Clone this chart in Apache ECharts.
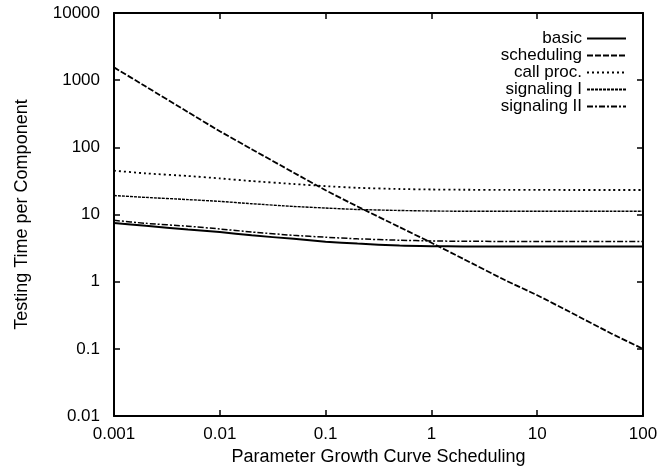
<!DOCTYPE html>
<html>
<head>
<meta charset="utf-8">
<script src="https://cdn.jsdelivr.net/npm/echarts@6/dist/echarts.min.js"></script>
<style>
html, body { margin: 0; padding: 0; background: #fff; }
#chart { width: 670px; height: 471px; }
</style>
</head>
<body>
<div id="chart"></div>
<script>
// x positions (parameter values) shared by all curves
const paramValues = [0.001, 0.002, 0.005, 0.01, 0.02, 0.05, 0.1, 0.2, 0.5, 1, 2, 5, 10, 20, 50, 100]

// testing time per component
const basicValues      = [7.5, 6.8, 6.0, 5.5, 4.9, 4.35, 3.95, 3.7, 3.45, 3.38, 3.35, 3.35, 3.35, 3.35, 3.35, 3.35]
const schedulingValues = [1550, 804, 335, 174, 94, 42, 23, 13.2, 6.5, 3.8, 2.19, 1.05, 0.63, 0.36, 0.17, 0.1]
const callProcValues   = [45, 41, 37.5, 34.5, 31.5, 28.5, 26.5, 25, 24, 23.6, 23.4, 23.3, 23.3, 23.2, 23.2, 23.2]
const signalingIValues = [19.2, 18, 16.7, 15.7, 14.5, 13.2, 12.5, 11.9, 11.5, 11.3, 11.2, 11.2, 11.2, 11.2, 11.2, 11.2]
const signalingIIValues = [8.2, 7.4, 6.7, 6.1, 5.5, 4.9, 4.6, 4.35, 4.15, 4.05, 4.0, 3.98, 3.97, 3.96, 3.96, 3.96]

const seriesNames = ['basic', 'scheduling', 'call proc.', 'signaling I', 'signaling II']

const FONT = 'Liberation Sans'

function pairs(ys) {
    return paramValues.map((x, i) => [x, ys[i]])
}

function fmt(v) {
    return String(+v.toPrecision(6))
}

function lineSeries(name, ys, width, type) {
    return {
        name: name,
        type: 'line',
        data: pairs(ys),
        symbol: 'none',
        smooth: 0.2,
        lineStyle: { color: '#000', width: width, type: type },
        itemStyle: { color: '#000' },
        emphasis: { disabled: true }
    }
}

let chart = echarts.init(document.getElementById('chart'), null, { renderer: 'canvas' })

let frameAxis = {
    axisLine: { show: true, lineStyle: { color: '#000', width: 2 } },
    axisTick: { show: true, inside: true, length: 6, lineStyle: { color: '#000', width: 1.5 } },
    splitLine: { show: false }
}

chart.setOption({
    animation: false,
    backgroundColor: '#fff',
    textStyle: { fontFamily: FONT, color: '#000' },
    grid: { left: 114, right: 27, top: 13, bottom: 48 },
    legend: {
        data: seriesNames,
        orient: 'vertical',
        align: 'right',
        right: 43,
        top: 30,
        padding: 0,
        itemGap: 0,
        itemWidth: 39,
        itemHeight: 10,
        itemStyle: { opacity: 0 },
        textStyle: { fontFamily: FONT, fontSize: 17, color: '#000', lineHeight: 15 }
    },
    xAxis: [
        Object.assign({}, frameAxis, {
            type: 'log',
            logBase: 10,
            min: 0.001,
            max: 100,
            position: 'bottom',
            name: 'Parameter Growth Curve Scheduling',
            nameLocation: 'middle',
            nameGap: 27,
            nameTextStyle: { fontFamily: FONT, fontSize: 18, color: '#000' },
            axisLabel: { fontFamily: FONT, fontSize: 17, color: '#000', margin: 10, formatter: fmt }
        }),
        Object.assign({}, frameAxis, {
            type: 'log',
            logBase: 10,
            min: 0.001,
            max: 100,
            position: 'top',
            axisLabel: { show: false }
        })
    ],
    yAxis: [
        Object.assign({}, frameAxis, {
            type: 'log',
            logBase: 10,
            min: 0.01,
            max: 10000,
            position: 'left',
            name: 'Testing Time per Component',
            nameLocation: 'middle',
            nameGap: 83,
            nameRotate: 90,
            nameTextStyle: { fontFamily: FONT, fontSize: 18, color: '#000' },
            axisLabel: { fontFamily: FONT, fontSize: 17, color: '#000', margin: 14, formatter: fmt }
        }),
        Object.assign({}, frameAxis, {
            type: 'log',
            logBase: 10,
            min: 0.01,
            max: 10000,
            position: 'right',
            axisLabel: { show: false }
        })
    ],
    series: [
        lineSeries('basic', basicValues, 2, 'solid'),
        lineSeries('scheduling', schedulingValues, 1.8, [6, 2]),
        lineSeries('call proc.', callProcValues, 1.8, [2, 3]),
        lineSeries('signaling I', signalingIValues, 1.4, [3, 1]),
        lineSeries('signaling II', signalingIIValues, 1.5, [6, 2, 2, 2])
    ]
})
</script>
</body>
</html>
